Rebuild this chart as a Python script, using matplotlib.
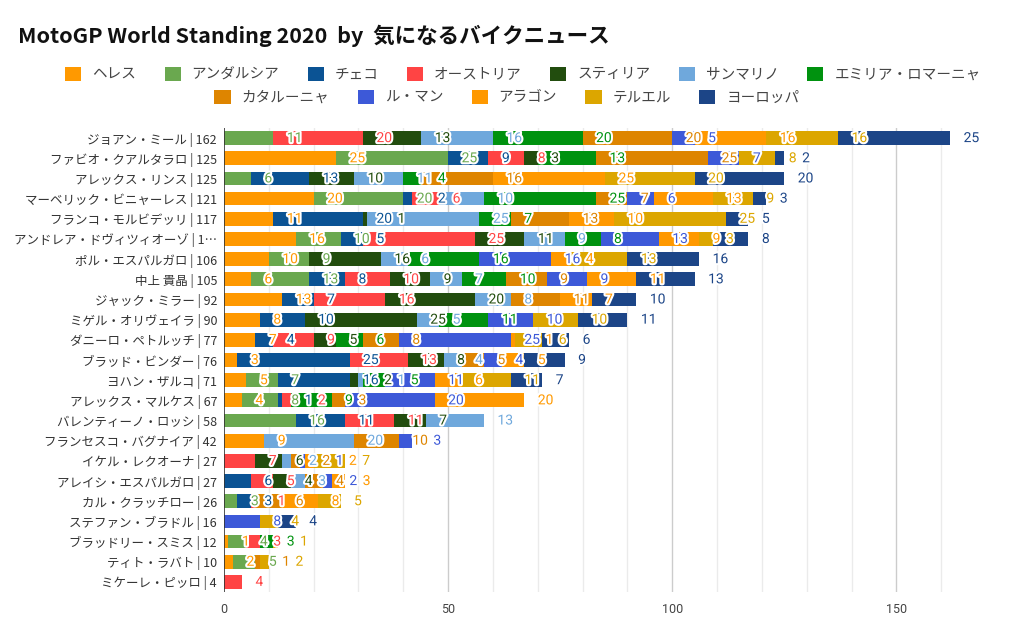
import matplotlib
matplotlib.use('Agg')
import matplotlib.pyplot as plt
import matplotlib.patheffects as pe
from matplotlib.patches import Patch
import numpy as np

plt.rcParams['font.family'] = ['Noto Sans CJK JP', 'DejaVu Sans']

title = 'MotoGP World Standing 2020  by  気になるバイクニュース'

rider_labels = [
    'ジョアン・ミール | 162', 'ファビオ・クアルタラロ | 125', 'アレックス・リンス | 125',
    'マーベリック・ビニャーレス | 121', 'フランコ・モルビデッリ | 117',
    'アンドレア・ドヴィツィオーゾ | 1…', 'ポル・エスパルガロ | 106', '中上 貴晶 | 105',
    'ジャック・ミラー | 92', 'ミゲル・オリヴェイラ | 90', 'ダニーロ・ペトルッチ | 77',
    'ブラッド・ビンダー | 76', 'ヨハン・ザルコ | 71', 'アレックス・マルケス | 67',
    'バレンティーノ・ロッシ | 58', 'フランセスコ・バグナイア | 42', 'イケル・レクオーナ | 27',
    'アレイシ・エスパルガロ | 27', 'カル・クラッチロー | 26', 'ステファン・ブラドル | 16',
    'ブラッドリー・スミス | 12', 'ティト・ラバト | 10', 'ミケーレ・ピッロ | 4',
]

races = ['ヘレス', 'アンダルシア', 'チェコ', 'オーストリア', 'スティリア', 'サンマリノ',
         'エミリア・ロマーニャ', 'カタルーニャ', 'ル・マン', 'アラゴン', 'テルエル', 'ヨーロッパ']

colors = ['#FF9900', '#6AA84F', '#0B5394', '#FF4444', '#224D0E', '#6FA8DC',
          '#00920F', '#DE8500', '#3D59D8', '#FF9900', '#DCA600', '#1C4587']

# points per race, riders in the order above
jerez      = [0, 25, 0, 20, 11, 16, 10, 6, 13, 8, 7, 3, 5, 4, 0, 9, 0, 0, 0, 0, 1, 2, 0]
andalucia  = [11, 25, 6, 20, 0, 10, 9, 13, 0, 0, 0, 0, 7, 8, 16, 0, 0, 0, 3, 0, 4, 5, 0]
czech      = [0, 9, 13, 2, 20, 5, 0, 8, 7, 10, 4, 25, 16, 1, 11, 0, 0, 6, 3, 0, 0, 0, 0]
austria    = [20, 8, 0, 6, 0, 25, 0, 10, 16, 0, 9, 13, 0, 2, 11, 0, 7, 5, 1, 0, 3, 0, 4]
styria     = [13, 3, 10, 0, 1, 11, 16, 9, 20, 25, 5, 8, 2, 0, 7, 0, 6, 4, 0, 0, 0, 0, 0]
sanmarino  = [16, 0, 11, 10, 25, 9, 6, 7, 8, 5, 0, 4, 1, 0, 13, 20, 2, 3, 0, 0, 0, 0, 0]
emilia     = [20, 13, 4, 25, 7, 8, 16, 10, 0, 11, 6, 0, 5, 9, 0, 0, 0, 0, 0, 0, 3, 0, 0]
catalunya  = [20, 25, 16, 7, 13, 0, 0, 9, 11, 0, 8, 5, 0, 3, 0, 10, 2, 4, 6, 0, 0, 1, 0]
lemans     = [5, 7, 0, 6, 0, 13, 16, 9, 0, 10, 25, 4, 11, 20, 0, 3, 1, 2, 0, 8, 0, 0, 0]
aragon     = [16, 0, 25, 13, 10, 9, 4, 11, 7, 0, 1, 5, 6, 20, 0, 0, 2, 3, 8, 0, 0, 0, 0]
teruel     = [16, 8, 20, 9, 25, 3, 13, 0, 0, 10, 6, 0, 11, 0, 0, 0, 7, 0, 5, 4, 1, 2, 0]
europe     = [25, 2, 20, 3, 5, 8, 16, 13, 10, 11, 6, 9, 7, 0, 0, 0, 0, 0, 0, 4, 0, 0, 0]

series = [jerez, andalucia, czech, austria, styria, sanmarino, emilia,
          catalunya, lemans, aragon, teruel, europe]

W, H = 1024, 617
fig = plt.figure(figsize=(W / 100, H / 100), dpi=100)
ax_left, ax_right, ax_top, ax_bot = 224, 977, 128, 592
ax = fig.add_axes([ax_left / W, 1 - ax_bot / H, (ax_right - ax_left) / W, (ax_bot - ax_top) / H])

XMAX = 168
n = len(rider_labels)
y = np.arange(n)
ax.set_xlim(0, XMAX)
ax.set_ylim(n - 0.5, -0.5)

# grid
for v in range(10, 170, 10):
    major = v % 50 == 0
    ax.axvline(v, color='#cccccc' if major else '#ebebeb', lw=1.0, zorder=0)
ax.axvline(0, color='#333333', lw=1.2, zorder=3)

cum = np.zeros(n)
ends = []
for vals, col in zip(series, colors):
    vals = np.array(vals, dtype=float)
    ax.barh(y, vals, left=cum, height=0.68, color=col, linewidth=0, zorder=2)
    cum = cum + vals
    ends.append(cum.copy())

# value labels
ppu = (ax_right - ax_left) / XMAX
off = 13.5 / ppu
gap = 5.5 / ppu
digit_w = 7.8 / ppu
stroke = [pe.withStroke(linewidth=3, foreground='white')]
for r in range(n):
    prev_right = -1e9
    for k, vals in enumerate(series):
        v = vals[r]
        if v == 0:
            continue
        end = ends[k][r]
        left = max(end + off, prev_right + gap)
        txt = str(v)
        ax.text(left, r, txt, ha='left', va='center', fontsize=10,
                family=['Roboto', 'DejaVu Sans'], color=colors[k],
                path_effects=stroke, zorder=5)
        prev_right = left + digit_w * len(txt)

ax.set_yticks(y)
ax.set_yticklabels(rider_labels, fontsize=9, color='#333333')
ax.tick_params(axis='y', length=0, pad=5)
ax.set_xticks([0, 50, 100, 150])
ax.set_xticklabels(['0', '50', '100', '150'], fontsize=9, color='#444444',
                   family=['Roboto', 'DejaVu Sans'])
ax.tick_params(axis='x', length=0, pad=8)
for s in ax.spines.values():
    s.set_visible(False)

fig.text(18 / W, 1 - 36 / H, title, fontsize=15.5, fontweight='bold',
         color='#111111', ha='left', va='center')

handles = [Patch(facecolor=c, edgecolor='none') for c in colors]
leg_kw = dict(frameon=False, fontsize=10.5, handlelength=1.1, handleheight=1.1,
              handletextpad=0.75, columnspacing=1.95, borderaxespad=0,
              labelcolor='#444444')
leg1 = fig.legend(handles[:7], races[:7], ncol=7, loc='center',
                  bbox_to_anchor=(523 / W, 1 - 74 / H), **leg_kw)
leg2 = fig.legend(handles[7:], races[7:], ncol=5, loc='center',
                  bbox_to_anchor=(507 / W, 1 - 97 / H), **leg_kw)

fig.savefig('out.png', dpi=100, facecolor='white')
